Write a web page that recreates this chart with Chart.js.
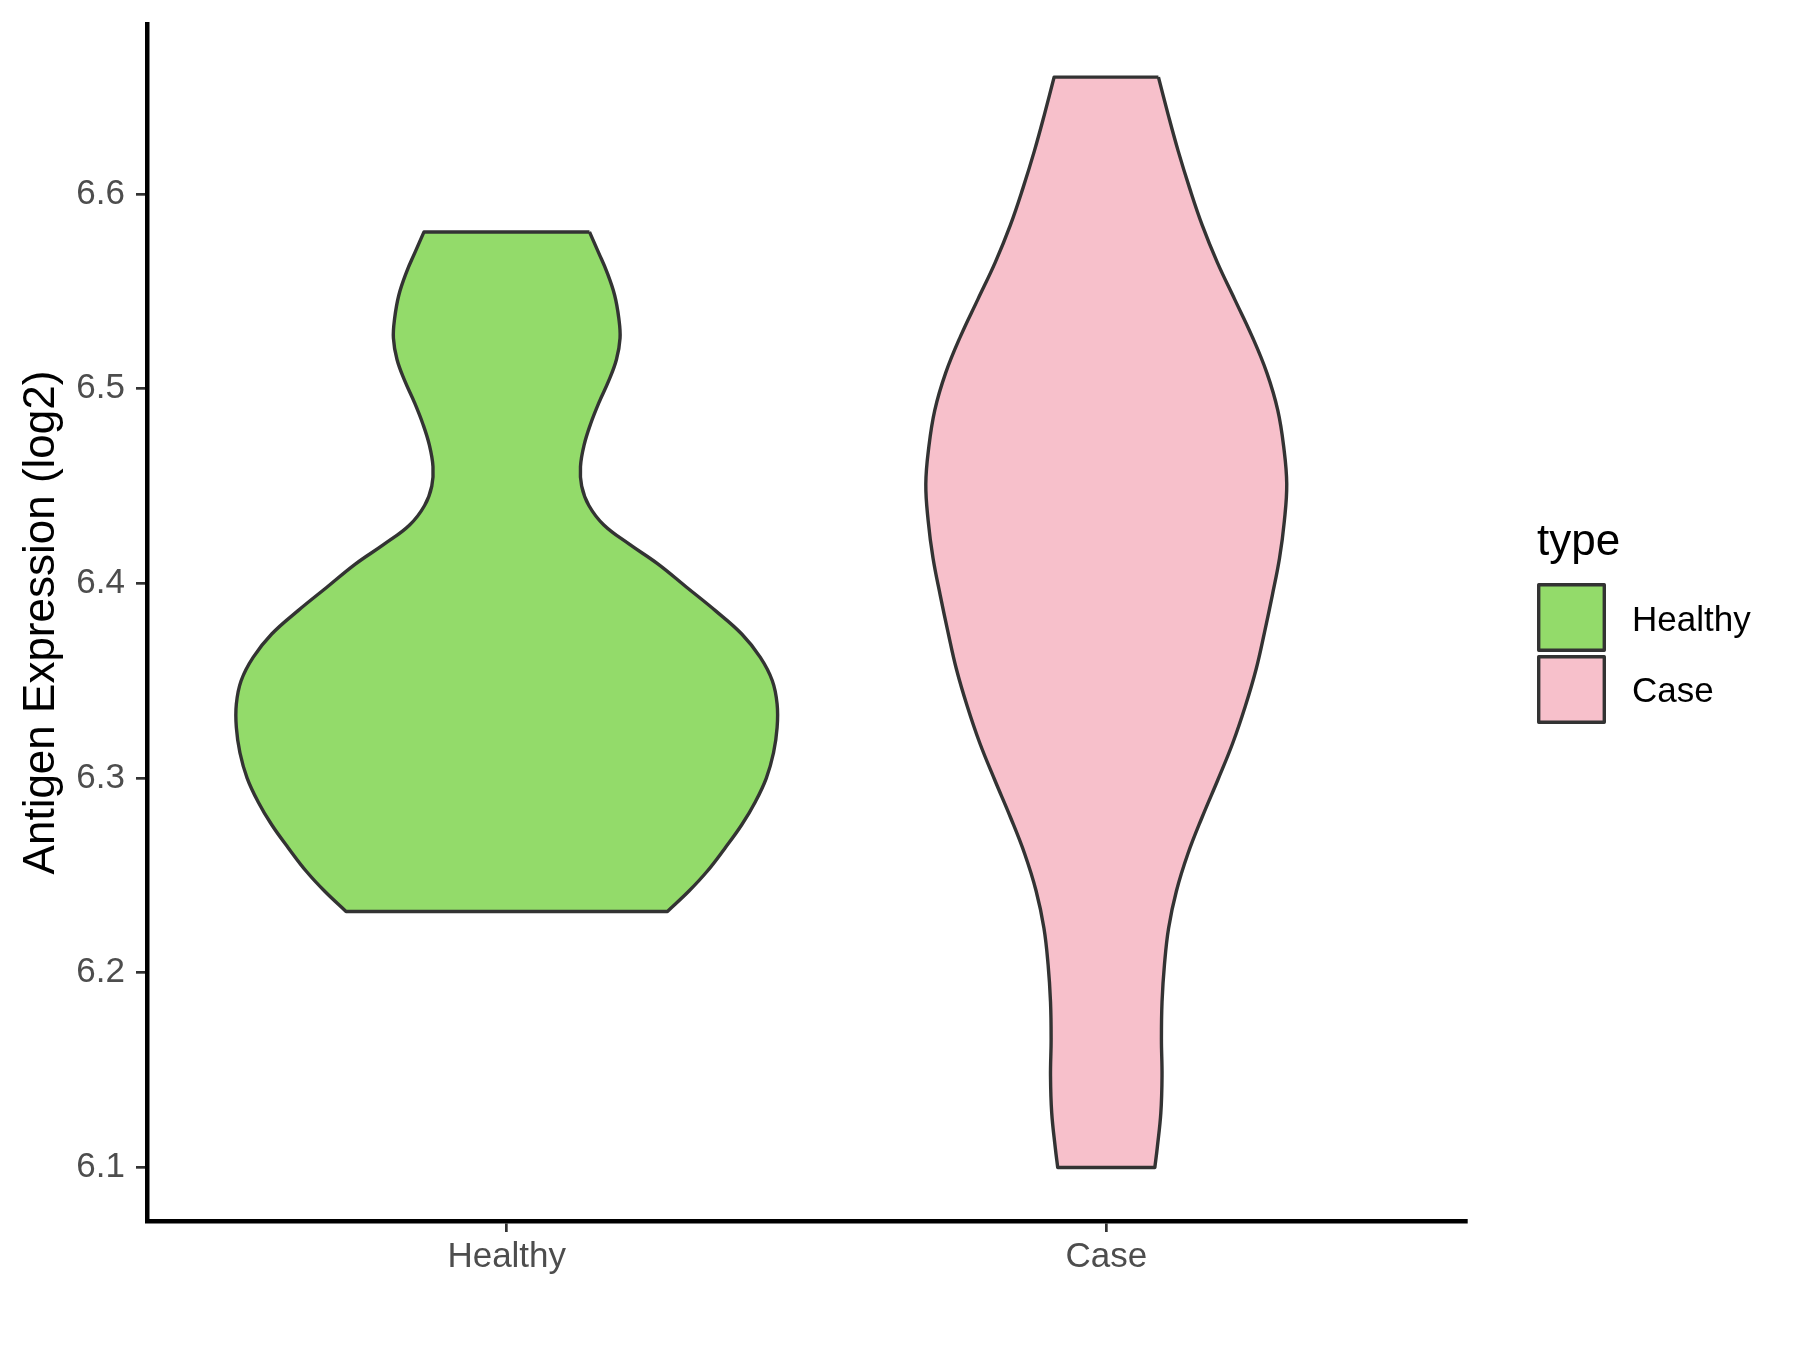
<!DOCTYPE html>
<html>
<head>
<meta charset="utf-8">
<script src="https://cdn.jsdelivr.net/npm/chart.js@4.4.1/dist/chart.umd.min.js"></script>
<style>
  html, body { margin: 0; padding: 0; background: #ffffff; }
  canvas { display: block; }
</style>
</head>
<body>
<canvas id="c" width="1800" height="1350"></canvas>
<script>
// ---- data ----
const categories = ['Healthy', 'Case'];
const fillColors = ['#93DB6A', '#F7C0CB'];
const yTicks = [6.1, 6.2, 6.3, 6.4, 6.5, 6.6];
const yTitle = 'Antigen Expression (log2)';
const legendTitle = 'type';

// violin profiles: expression value (top -> bottom) and half width (x-category units)
const healthyY = [6.5805, 6.570, 6.560, 6.548, 6.536, 6.526, 6.515, 6.504, 6.493, 6.482, 6.471, 6.460, 6.450, 6.440, 6.430, 6.420, 6.410, 6.398, 6.386, 6.374, 6.362, 6.350, 6.338, 6.326, 6.313, 6.300, 6.288, 6.276, 6.264, 6.252, 6.242, 6.2315];
const healthyHalfWidth = [0.138, 0.153, 0.167, 0.180, 0.187, 0.189, 0.183, 0.170, 0.154, 0.140, 0.129, 0.123, 0.125, 0.137, 0.162, 0.205, 0.252, 0.300, 0.348, 0.392, 0.423, 0.443, 0.451, 0.451, 0.445, 0.433, 0.415, 0.392, 0.364, 0.334, 0.304, 0.268];

const caseY = [6.660, 6.641, 6.622, 6.603, 6.584, 6.565, 6.546, 6.527, 6.508, 6.489, 6.470, 6.451, 6.432, 6.413, 6.394, 6.375, 6.356, 6.337, 6.318, 6.299, 6.280, 6.261, 6.242, 6.223, 6.204, 6.185, 6.166, 6.147, 6.128, 6.110, 6.100];
const caseHalfWidth = [0.087, 0.103, 0.120, 0.139, 0.160, 0.185, 0.214, 0.243, 0.268, 0.286, 0.296, 0.301, 0.297, 0.289, 0.277, 0.264, 0.250, 0.232, 0.211, 0.186, 0.160, 0.136, 0.117, 0.104, 0.097, 0.093, 0.092, 0.093, 0.091, 0.085, 0.081];

const profiles = [
  { ys: healthyY, hw: healthyHalfWidth },
  { ys: caseY, hw: caseHalfWidth }
];

// closed outline: right side top->bottom, left side bottom->top (corners doubled to stay sharp)
function outline(center, ys, hw) {
  const pts = [];
  const n = ys.length;
  for (let i = 0; i < n; i++) {
    const p = { x: center + hw[i], y: ys[i] };
    pts.push(p);
    if (i === 0 || i === n - 1) pts.push({ x: p.x, y: p.y });
  }
  for (let i = n - 1; i >= 0; i--) {
    const p = { x: center - hw[i], y: ys[i] };
    pts.push(p);
    if (i === 0 || i === n - 1) pts.push({ x: p.x, y: p.y });
  }
  pts.push({ x: center + hw[0], y: ys[0] });
  return pts;
}

const FONT = "'Liberation Sans', Arial, Helvetica, sans-serif";
Chart.defaults.font.family = FONT;

const datasets = categories.map((name, i) => ({
  label: name,
  data: outline(i + 1, profiles[i].ys, profiles[i].hw),
  backgroundColor: fillColors[i],
  borderColor: '#333333',
  borderWidth: 3.4,
  borderJoinStyle: 'round',
  fill: 'shape',
  tension: 0.4,
  pointRadius: 0,
  pointHoverRadius: 0
}));

const legendPlugin = {
  id: 'ggLegend',
  afterDraw(chart) {
    const ctx = chart.ctx;
    ctx.save();
    ctx.fillStyle = '#000000';
    ctx.textAlign = 'left';
    ctx.textBaseline = 'alphabetic';
    ctx.font = '44px ' + FONT;
    ctx.fillText(legendTitle, 1537, 555);
    const boxTops = [583, 655];
    const baselines = [630.5, 701.5];
    categories.forEach((name, i) => {
      const top = boxTops[i];
      ctx.fillStyle = fillColors[i];
      ctx.fillRect(1538.7, top + 1.7, 65.6, 65.6);
      ctx.strokeStyle = '#333333';
      ctx.lineWidth = 3.4;
      ctx.lineJoin = 'round';
      ctx.strokeRect(1538.7, top + 1.7, 65.6, 65.6);
      ctx.fillStyle = '#000000';
      ctx.font = '35px ' + FONT;
      ctx.fillText(name, 1632, baselines[i]);
    });
    ctx.restore();
  }
};

new Chart(document.getElementById('c'), {
  type: 'line',
  data: { datasets },
  plugins: [legendPlugin],
  options: {
    responsive: false,
    animation: false,
    devicePixelRatio: 1,
    layout: { padding: { left: 0, top: 24, right: 334, bottom: 0 } },
    plugins: {
      legend: { display: false },
      tooltip: { enabled: false }
    },
    scales: {
      x: {
        type: 'linear',
        min: 0.4,
        max: 2.6,
        afterBuildTicks: (s) => { s.ticks = categories.map((_, i) => ({ value: i + 1 })); },
        afterFit: (s) => { s.height = 129; s.paddingLeft = 0; s.paddingRight = 0; },
        ticks: {
          autoSkip: false,
          padding: 4,
          color: '#4D4D4D',
          font: { size: 35 },
          callback: (v, idx) => categories[idx]
        },
        grid: {
          display: true,
          drawOnChartArea: false,
          drawTicks: true,
          tickLength: 11,
          tickColor: '#333333',
          tickWidth: 2.7,
          lineWidth: 2.7
        },
        border: { display: true, color: '#000000', width: 4.5 }
      },
      y: {
        type: 'linear',
        min: 6.0725,
        max: 6.6873,
        afterBuildTicks: (s) => { s.ticks = yTicks.map(v => ({ value: v })); },
        afterFit: (s) => { s.width = 147; s.paddingTop = 0; s.paddingBottom = 0; },
        ticks: {
          autoSkip: false,
          padding: 11,
          color: '#4D4D4D',
          font: { size: 35 },
          callback: (v) => Number(v).toFixed(1)
        },
        grid: {
          display: true,
          drawOnChartArea: false,
          drawTicks: true,
          tickLength: 11,
          tickColor: '#333333',
          tickWidth: 2.7,
          lineWidth: 2.7
        },
        border: { display: true, color: '#000000', width: 4.5 },
        title: {
          display: true,
          text: yTitle,
          color: '#000000',
          font: { size: 44 },
          padding: { top: 15, bottom: 0 }
        }
      }
    }
  }
});
</script>
</body>
</html>
